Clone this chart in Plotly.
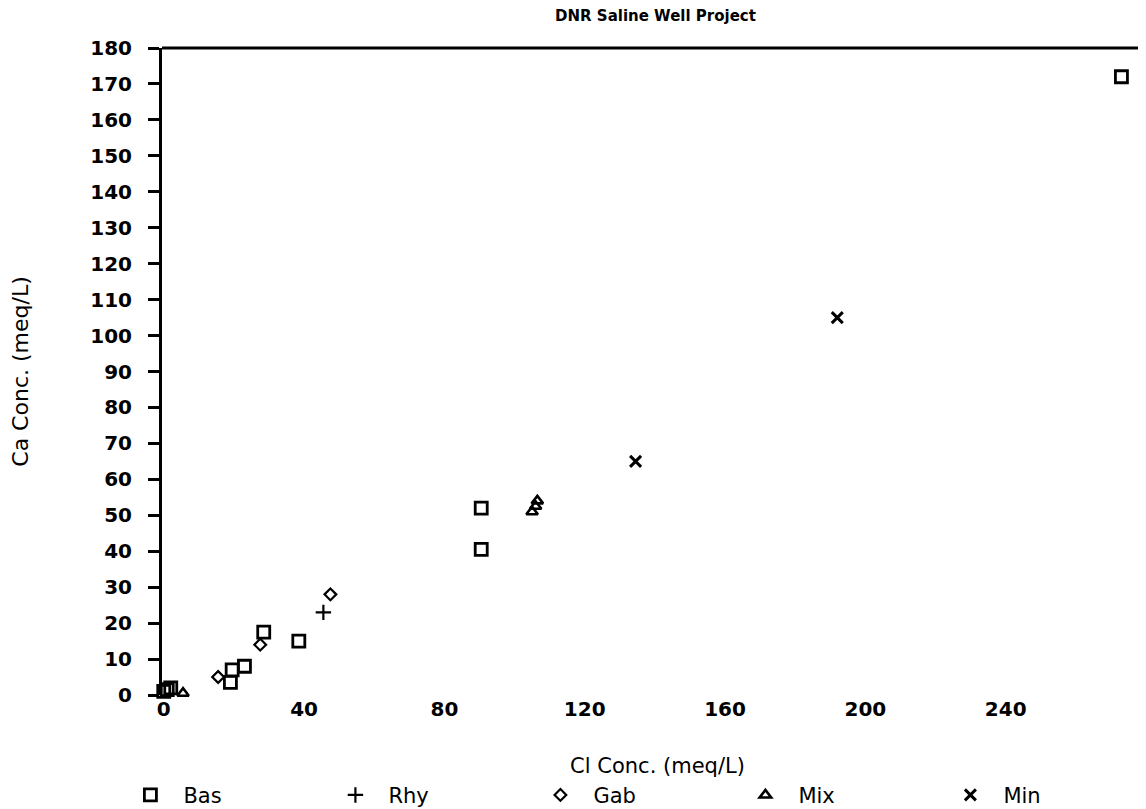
import plotly.graph_objects as go

# Data (Cl conc. vs Ca conc., meq/L)
bas_cl = [273, 90.5, 90.5, 38.5, 28.5, 23, 19.5, 19, 0, 1, 2]
bas_ca = [172, 52, 40.5, 15, 17.5, 8, 7, 3.5, 1, 1.5, 2]
rhy_cl = [45.5]
rhy_ca = [23]
gab_cl = [47.5, 27.5, 15.5]
gab_ca = [28, 14, 5]
mix_cl = [105, 106, 106.5, 5.5]
mix_ca = [51, 52.5, 54, 0.5]
min_cl = [192, 134.5]
min_ca = [105, 65]

x_ticks = [0, 40, 80, 120, 160, 200, 240]
y_ticks = list(range(0, 181, 10))

FONT = "DejaVu Sans"

fig = go.Figure()
series = [
    ("Bas", bas_cl, bas_ca, "square-open", 12, 2.8),
    ("Rhy", rhy_cl, rhy_ca, "cross-thin", 11, 2.2),
    ("Gab", gab_cl, gab_ca, "diamond-open", 9, 2.2),
    ("Mix", mix_cl, mix_ca, "triangle-up-open", 10, 2.6),
    ("Min", min_cl, min_ca, "x-thin", 11, 3.0),
]
for name, xs, ys, sym, size, lw in series:
    fig.add_trace(go.Scatter(
        x=xs, y=ys, mode="markers", name=name, cliponaxis=False,
        marker=dict(symbol=sym, size=size, color="black",
                    line=dict(color="black", width=lw)),
    ))

fig.update_layout(
    width=1146, height=809,
    paper_bgcolor="white", plot_bgcolor="white",
    margin=dict(l=150, r=1, t=40, b=121),
    title=dict(text="DNR Saline Well Project", x=0.565, xanchor="center",
               y=0.997, yanchor="top",
               font=dict(family=FONT, size=15, color="black", weight="bold")),
    font=dict(family=FONT, color="black"),
    showlegend=True,
    legend=dict(orientation="h", x=-0.045, xanchor="left", y=-0.155, yanchor="middle",
                font=dict(family=FONT, size=21, color="black"),
                entrywidth=134, entrywidthmode="pixels", itemwidth=56,
                tracegroupgap=0, bgcolor="rgba(0,0,0,0)"),
)
fig.update_xaxes(
    range=[-0.5, 282], tickvals=x_ticks, ticks="", showgrid=False, zeroline=False,
    showline=False, mirror=False,
    tickfont=dict(family=FONT, size=20, color="black", weight="bold"),
    title=dict(text="Cl Conc. (meq/L)", standoff=38,
               font=dict(family=FONT, size=21, color="black")),
)
fig.update_yaxes(
    range=[0, 180], tickvals=y_ticks, ticks="outside", ticklen=11, tickwidth=2.5,
    tickcolor="black", showgrid=False, zeroline=False, ticklabelstandoff=12,
    showline=True, linecolor="black", linewidth=3,
    tickfont=dict(family=FONT, size=20, color="black", weight="bold"),
    title=dict(text="Ca Conc. (meq/L)", standoff=66,
               font=dict(family=FONT, size=22, color="black")),
)
# top and right frame lines
fig.add_shape(type="line", xref="paper", yref="paper", x0=0, x1=1, y0=1, y1=1,
              line=dict(color="black", width=3))
fig.add_shape(type="line", xref="paper", yref="paper", x0=1, x1=1, y0=0, y1=1,
              line=dict(color="black", width=1.5))

fig.write_html("out.html")
